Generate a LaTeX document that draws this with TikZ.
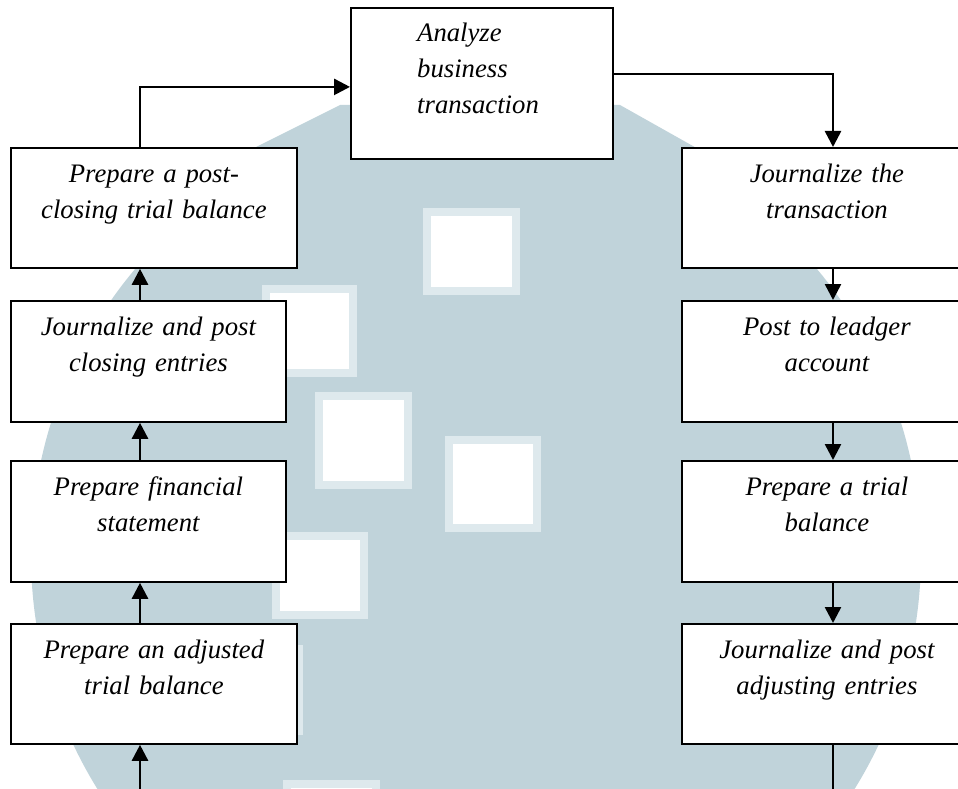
\documentclass[tikz,border=0pt]{standalone}
\usepackage{fontspec}
\setmainfont{Liberation Serif}
\usetikzlibrary{arrows.meta}
\definecolor{wm}{RGB}{192,211,218}
\definecolor{wmedge}{RGB}{222,233,237}
\begin{document}
\begin{tikzpicture}[x=1pt,y=-1pt,
  stepbox/.style={draw=black,line width=1.8pt,fill=white,rectangle,inner sep=0pt,anchor=north west},
  lbl/.style={font=\fontsize{26.7}{36}\selectfont\itshape,inner sep=0pt,text width=300pt,align=center,anchor=base},
  conn/.style={line width=2.6pt,-{Triangle[width=16pt,length=16pt]}},
  plainline/.style={line width=2.6pt},
  wsq/.style={fill=white,draw=wmedge,line width=8pt}]
\useasboundingbox (0,0) rectangle (958,789);
% watermark
\begin{scope}
\clip (0,0) rectangle (958,789);
\fill[wm] (476,555) circle[radius=445pt];
\fill[wm] (250,150) -- (340,105) -- (620,105) -- (700,150) -- (700,250) -- (250,250) -- cycle;
\filldraw[wsq] (427,212) rectangle (516,291);
\filldraw[wsq] (266,289) rectangle (353,373);
\filldraw[wsq] (319,396) rectangle (408,485);
\filldraw[wsq] (449,440) rectangle (537,528);
\filldraw[wsq] (276,536) rectangle (364,615);
\filldraw[wsq] (212,649) rectangle (299,731);
\filldraw[wsq] (287,784) rectangle (376,800);
\end{scope}
% boxes
\node[stepbox,minimum width=262pt,minimum height=151pt] (an) at (350,7) {};
\node[stepbox,minimum width=286pt,minimum height=120pt] (pc) at (10,147) {};
\node[stepbox,minimum width=275pt,minimum height=121pt] (jc) at (10,300) {};
\node[stepbox,minimum width=275pt,minimum height=121pt] (fs) at (10,460) {};
\node[stepbox,minimum width=286pt,minimum height=120pt] (ab) at (10,623) {};
\node[stepbox,minimum width=304pt,minimum height=120pt] (jt) at (681,147) {};
\node[stepbox,minimum width=304pt,minimum height=121pt] (pl) at (681,300) {};
\node[stepbox,minimum width=304pt,minimum height=121pt] (tb) at (681,460) {};
\node[stepbox,minimum width=304pt,minimum height=120pt] (ae) at (681,623) {};
% labels
\node[lbl,align=left,text width=200pt,anchor=base west] (ant) at (417,42) {Analyze\\business\\transaction};
\node[lbl] (pct) at ([yshift=-35pt]pc.north) {Prepare a post-\\closing trial balance};
\node[lbl] (jct) at ([yshift=-35pt]jc.north) {Journalize and post\\closing entries};
\node[lbl] (fst) at ([yshift=-35pt]fs.north) {Prepare financial\\statement};
\node[lbl] (abt) at ([yshift=-35pt]ab.north) {Prepare an adjusted\\trial balance};
\node[lbl] (jtt) at ([xshift=-7pt,yshift=-35pt]jt.north) {Journalize the\\transaction};
\node[lbl] (plt) at ([xshift=-7pt,yshift=-35pt]pl.north) {Post to leadger\\account};
\node[lbl] (tbt) at ([xshift=-7pt,yshift=-35pt]tb.north) {Prepare a trial\\balance};
\node[lbl] (aet) at ([xshift=-7pt,yshift=-35pt]ae.north) {Journalize and post\\adjusting entries};
% connectors
\coordinate (lx) at (140,0);
\coordinate (rx) at (833,0);
\coordinate (lb) at (140,789);
\coordinate (rb) at (833,789);
\draw[conn] (pc.north -| lx) |- ([yshift=-3.5pt]an.west);
\draw[conn] ([yshift=9.5pt]an.east) -| (jt.north -| rx);
\draw[conn] (jt.south -| rx) -- (pl.north -| rx);
\draw[conn] (pl.south -| rx) -- (tb.north -| rx);
\draw[conn] (tb.south -| rx) -- (ae.north -| rx);
\draw[plainline] (ae.south -| rx) -- (rb);
\draw[conn] (lb) -- (ab.south -| lx);
\draw[conn] (ab.north -| lx) -- (fs.south -| lx);
\draw[conn] (fs.north -| lx) -- (jc.south -| lx);
\draw[conn] (jc.north -| lx) -- (pc.south -| lx);
\end{tikzpicture}
\end{document}
